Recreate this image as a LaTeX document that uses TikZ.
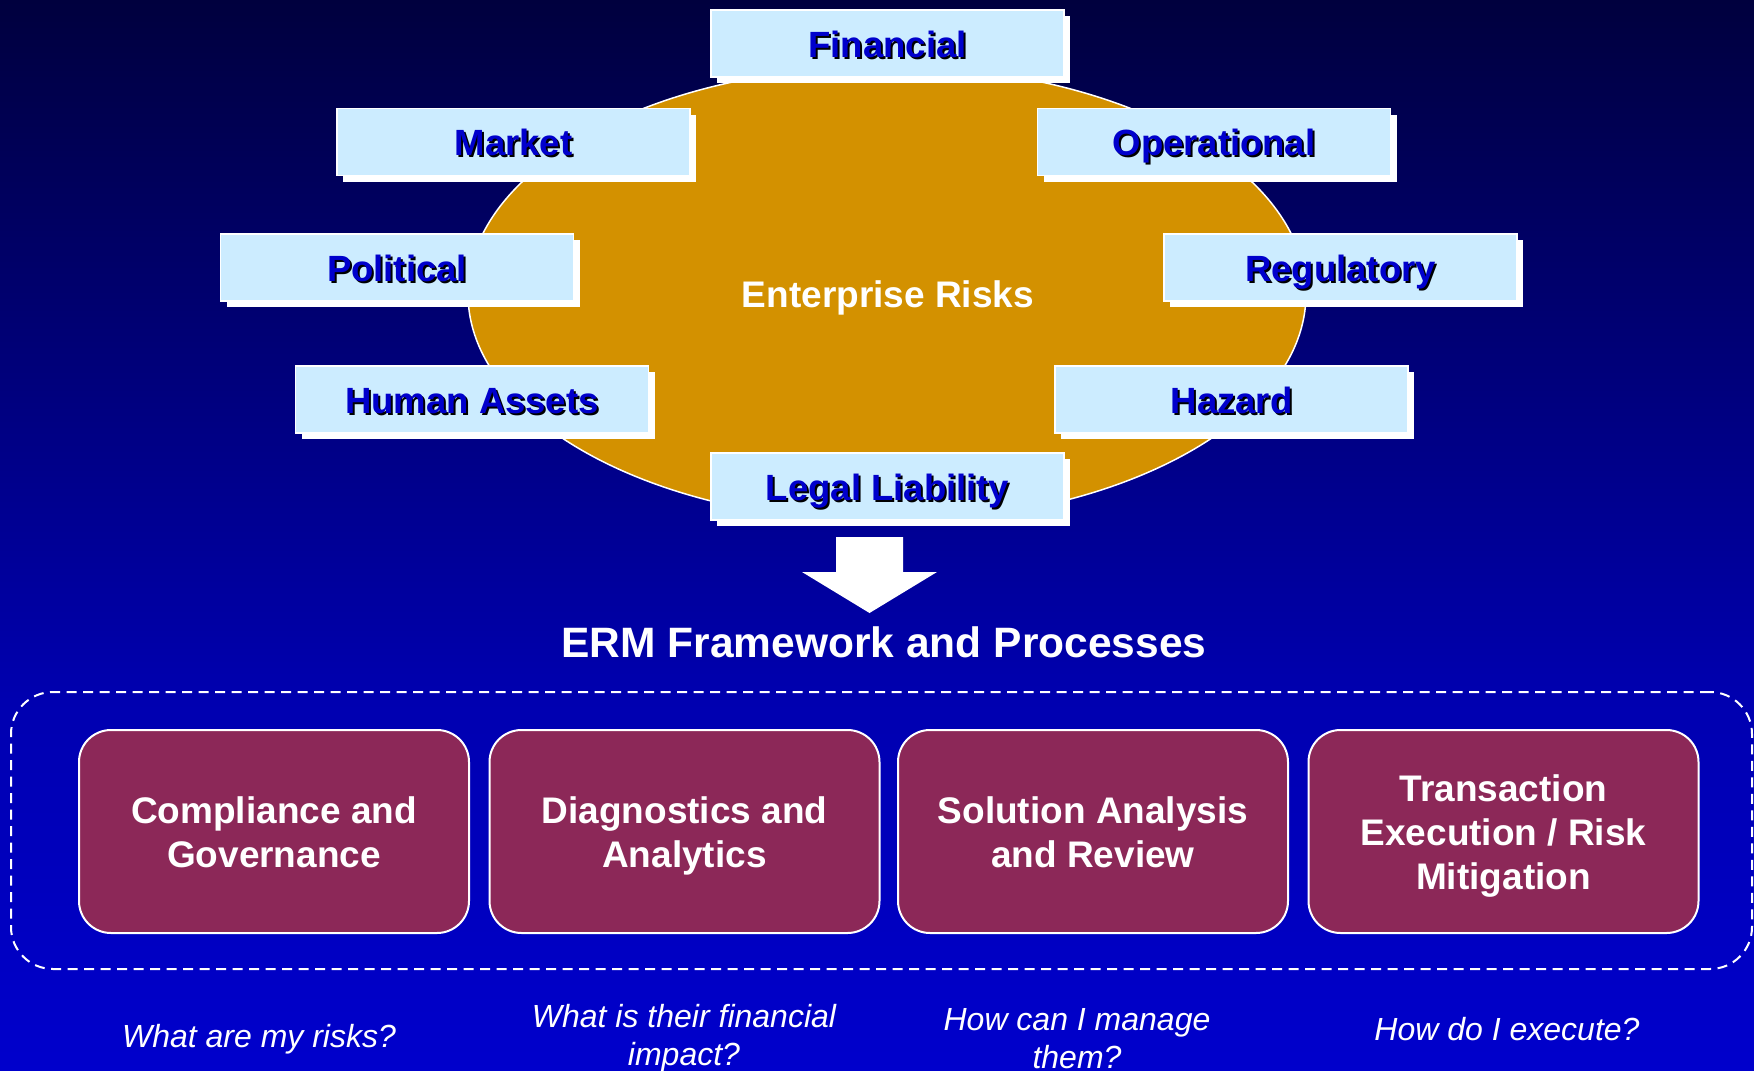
\documentclass[tikz,border=0pt]{standalone}
\usepackage{fontspec}
\setmainfont{Liberation Sans}
\usetikzlibrary{shadows,shapes.geometric}
\definecolor{boxblue}{RGB}{204,236,255}
\definecolor{txtblue}{RGB}{0,0,204}
\definecolor{ellgold}{RGB}{211,145,0}
\definecolor{procred}{RGB}{140,40,88}
\definecolor{bgtop}{RGB}{0,0,62}
\definecolor{bgmid}{RGB}{0,0,176}
\definecolor{bgbot}{RGB}{0,0,204}
\newcommand\shtext[1]{\leavevmode\rlap{\kern2pt\raisebox{-2pt}{\color{black}#1}}#1}
\newcommand\phs{\rule{0pt}{35pt}}
\newcommand\pds{\rule[-8pt]{0pt}{8pt}}
\newcommand\qhs{\rule{0pt}{25pt}}
\newcommand\qds{\rule[-7pt]{0pt}{7pt}}
\begin{document}
\begin{tikzpicture}[x=1pt,y=-1pt,
  riskbox/.style={rectangle, draw=white, line width=1.5pt, fill=boxblue,
    minimum width=353pt, minimum height=67pt, inner sep=0pt,
    text height=27pt, text depth=0pt, text=txtblue,
    font=\fontsize{36.5}{40}\selectfont\bfseries,
    drop shadow={shadow xshift=6pt, shadow yshift=-6pt, fill=white, opacity=1, draw=none}},
  procbox/.style={rectangle, rounded corners=32pt, draw=white, line width=2pt,
    fill=procred, minimum width=390pt, minimum height=203pt, inner sep=0pt,
    text=white, align=center, font=\fontsize{37}{44}\selectfont\bfseries},
  question/.style={inner sep=0pt, text=white, align=center,
    font=\fontsize{32}{38}\selectfont\itshape},
  bigtitle/.style={inner sep=0pt, text=white, anchor=base}]
\useasboundingbox (0,0) rectangle (1754,1071);
% background
\fill[top color=bgtop, bottom color=bgmid] (0,0) rectangle (1754,701);
\fill[top color=bgmid, bottom color=bgbot] (0,700) rectangle (1754,1071);
% ellipse
\node[ellipse, draw=white, line width=1.5pt, fill=ellgold, minimum width=838pt,
  minimum height=456pt, inner sep=0pt] (ell) at (887,294) {};
\node[bigtitle, font=\fontsize{37}{40}\selectfont\bfseries] (ent) at (888,307) {Enterprise Risks};
% risk boxes
\node[riskbox] (fin) at (887.5,43.5) {\shtext{Financial}};
\node[riskbox] (mkt) at (513.5,142) {\shtext{Market}};
\node[riskbox] (ops) at (1214,142) {\shtext{Operational}};
\node[riskbox] (pol) at (397,267.5) {\shtext{Political}};
\node[riskbox] (reg) at (1340.5,267.5) {\shtext{Regulatory}};
\node[riskbox] (hum) at (472,399.5) {\shtext{Human Assets}};
\node[riskbox] (haz) at (1231.5,399.5) {\shtext{Hazard}};
\node[riskbox] (leg) at (887.5,486.5) {\shtext{Legal Liability}};
% block arrow
\fill[white] (836,537) -- (903,537) -- (903,572) -- (937,572) -- (869.5,613)
  -- (802,572) -- (836,572) -- cycle;
\node[bigtitle, font=\fontsize{42.5}{46}\selectfont\bfseries] (erm) at (884,657) {ERM Framework and Processes};
% dashed frame
\node[draw=white, line width=2pt, dash pattern=on 10pt off 6.5pt, rounded corners=42pt,
  minimum width=1741pt, minimum height=277pt, inner sep=0pt] (frame) at (881.5,830.5) {};
% process boxes
\node[procbox] (p1) at (274,831.5) {\phs Compliance and\\Governance\pds};
\node[procbox] (p2) at (684.5,831.5) {\phs Diagnostics and\\Analytics\pds};
\node[procbox] (p3) at (1093,831.5) {\phs Solution Analysis\\and Review\pds};
\node[procbox] (p4) at (1503.5,831.5) {\phs Transaction\\Execution / Risk\\Mitigation\pds};
% questions
\node[question] (q1) at (259,1038) {\qhs What are my risks?\qds};
\node[question] (q2) at (684,1037) {\qhs What is their financial\\impact?\qds};
\node[question] (q3) at (1077,1040) {\qhs How can I manage\\them?\qds};
\node[question] (q4) at (1507,1031) {\qhs How do I execute?\qds};
\end{tikzpicture}
\end{document}
